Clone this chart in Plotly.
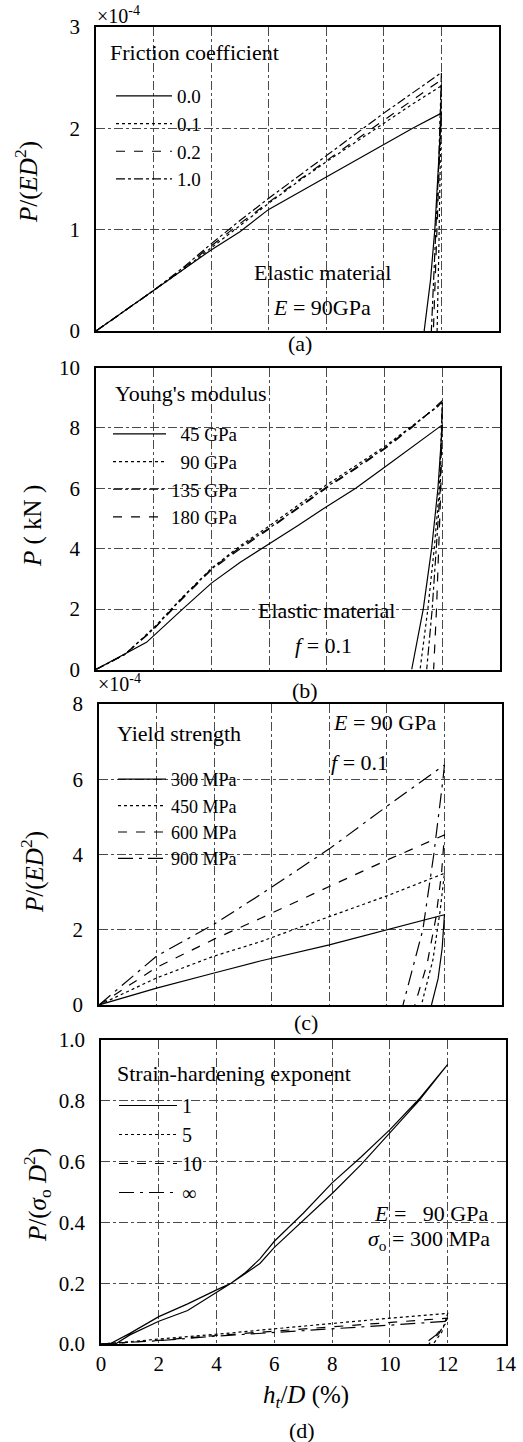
import plotly.graph_objects as go

W, H = 523, 1442
FONT = "Liberation Serif"

# ---------------- Panel (a): friction coefficient (values in 1e-4) ----------------
a_labels = ["0.0", "0.1", "0.2", "1.0"]
a_load_x = [0, 1, 2, 3, 4, 5, 6, 7, 8, 9, 10, 11, 12]
a_load_f00 = [0, 0.2, 0.4, 0.6, 0.8, 0.98, 1.2, 1.36, 1.52, 1.68, 1.84, 2.0, 2.15]
a_load_f01 = [0, 0.2, 0.4, 0.6, 0.82, 1.04, 1.26, 1.47, 1.67, 1.86, 2.05, 2.24, 2.42]
a_load_f02 = [0, 0.2, 0.4, 0.61, 0.84, 1.06, 1.27, 1.48, 1.68, 1.88, 2.08, 2.28, 2.48]
a_load_f10 = [0, 0.2, 0.4, 0.62, 0.86, 1.09, 1.31, 1.52, 1.73, 1.94, 2.15, 2.35, 2.55]
a_unl_x_f00 = [12, 11.9, 11.77, 11.62, 11.4]
a_unl_y_f00 = [2.15, 1.6, 1.0, 0.5, 0]
a_unl_x_f01 = [12, 11.96, 11.91, 11.85]
a_unl_y_f01 = [2.42, 1.6, 0.8, 0]
a_unl_x_f02 = [12, 11.92, 11.82, 11.72]
a_unl_y_f02 = [2.48, 1.6, 0.8, 0]
a_unl_x_f10 = [12, 11.9, 11.78, 11.65]
a_unl_y_f10 = [2.55, 1.6, 0.8, 0]

# ---------------- Panel (b): Young's modulus (kN) ----------------
b_labels = ["\u00a0\u00a045 GPa", "\u00a0\u00a090 GPa", "135 GPa", "180 GPa"]
b_load_x_e45 = [0, 1.75, 3, 4, 5, 5.7, 7, 8, 9, 10, 11, 12]
b_load_y_e45 = [0, 0.9, 2.0, 2.86, 3.55, 3.97, 4.77, 5.4, 6.0, 6.7, 7.4, 8.1]
b_load_x = [0, 1, 2, 3, 4, 5, 6, 7, 8, 9, 10, 11, 12]
b_load_e90 = [0, 0.5, 1.38, 2.4, 3.35, 4.1, 4.75, 5.42, 6.12, 6.75, 7.38, 8.1, 8.82]
b_load_e135 = [0, 0.5, 1.35, 2.38, 3.33, 4.05, 4.68, 5.35, 6.05, 6.68, 7.33, 8.08, 8.85]
b_load_e180 = [0, 0.5, 1.33, 2.35, 3.3, 4.0, 4.65, 5.32, 6.02, 6.65, 7.3, 8.05, 8.9]
b_unl_y_levels = [6, 4, 2, 0]
b_unl_x_e45 = [11.85, 11.63, 11.34, 10.94]
b_unl_x_e90 = [11.9, 11.72, 11.5, 11.23]
b_unl_x_e135 = [11.93, 11.8, 11.65, 11.46]
b_unl_x_e180 = [11.95, 11.88, 11.8, 11.7]

# ---------------- Panel (c): yield strength (values in 1e-4) ----------------
c_labels = ["300 MPa", "450 MPa", "600 MPa", "900 MPa"]
c_load_x = [0, 2, 4, 5.6, 8, 10, 12]
c_load_s300 = [0, 0.45, 0.85, 1.17, 1.6, 2.0, 2.4]
c_load_s450 = [0, 0.72, 1.3, 1.68, 2.35, 2.9, 3.5]
c_load_s600 = [0, 1.0, 1.75, 2.3, 3.15, 3.85, 4.52]
c_load_s900 = [0, 1.3, 2.15, 2.93, 4.15, 5.28, 6.38]
c_unl_x_s300 = [12, 11.92, 11.78, 11.55]
c_unl_y_s300 = [2.4, 1.5, 0.7, 0]
c_unl_x_s450 = [12, 11.85, 11.6, 11.2]
c_unl_y_s450 = [3.5, 2.5, 1.2, 0]
c_unl_x_s600 = [12, 11.9, 11.7, 11.4, 10.97]
c_unl_y_s600 = [4.52, 3.5, 2.3, 1.1, 0]
c_unl_x_s900 = [12, 11.95, 11.63, 11.25, 10.56]
c_unl_y_s900 = [6.38, 6.0, 4.0, 2.0, 0]

# ---------------- Panel (d): strain-hardening exponent ----------------
d_labels = ["1", "5", "10", "\u221e"]
d_load_x_n1 = [0.3, 1, 2, 3, 4, 4.5, 5, 5.5, 6, 7, 8, 9, 10, 11, 12]
d_load_y_n1 = [0, 0.035, 0.09, 0.132, 0.178, 0.2, 0.232, 0.265, 0.318, 0.405, 0.495, 0.59, 0.695, 0.8, 0.92]
d_unl_x_n1 = [11, 10, 9, 8, 7, 6, 5.5, 5, 4.5, 3, 2, 1, 0.5]
d_unl_y_n1 = [0.805, 0.705, 0.615, 0.53, 0.43, 0.338, 0.28, 0.235, 0.2, 0.11, 0.075, 0.03, 0]
d_load_x = [0, 2, 4, 6, 8, 10, 12]
d_load_n5 = [0, 0.015, 0.032, 0.05, 0.068, 0.085, 0.101]
d_load_n10 = [0, 0.012, 0.028, 0.042, 0.057, 0.07, 0.085]
d_load_ninf = [0, 0.011, 0.026, 0.037, 0.05, 0.062, 0.075]
d_unl_x_n5 = [11.8, 11.5]
d_unl_y_n5 = [0.04, 0]
d_unl_x_n10 = [11.7, 11.35]
d_unl_y_n10 = [0.035, 0]
d_unl_x_ninf = [11.6, 11.2]
d_unl_y_ninf = [0.03, 0]

x_ticks = [0, 2, 4, 6, 8, 10, 12, 14]

fig = go.Figure()


def add(x, y, name, dash, n):
    ax = "" if n == 1 else str(n)
    fig.add_trace(go.Scatter(
        x=x, y=y, name=name, mode="lines",
        line=dict(color="black", width=1.2, dash=dash),
        xaxis="x" + ax, yaxis="y" + ax,
        legend="legend" + ax,
    ))


# (a)
add(a_load_x + a_unl_x_f00[1:], a_load_f00 + a_unl_y_f00[1:], a_labels[0], "solid", 1)
add(a_load_x + a_unl_x_f01[1:], a_load_f01 + a_unl_y_f01[1:], a_labels[1], "dot", 1)
add(a_load_x + a_unl_x_f02[1:], a_load_f02 + a_unl_y_f02[1:], a_labels[2], "dash", 1)
add(a_load_x + a_unl_x_f10[1:], a_load_f10 + a_unl_y_f10[1:], a_labels[3], "dashdot", 1)
# (b)
add(b_load_x_e45 + b_unl_x_e45, b_load_y_e45 + b_unl_y_levels, b_labels[0], "solid", 2)
add(b_load_x + b_unl_x_e90, b_load_e90 + b_unl_y_levels, b_labels[1], "dot", 2)
add(b_load_x + b_unl_x_e135, b_load_e135 + b_unl_y_levels, b_labels[2], "dashdot", 2)
add(b_load_x + b_unl_x_e180, b_load_e180 + b_unl_y_levels, b_labels[3], "dash", 2)
# (c)
add(c_load_x + c_unl_x_s300[1:], c_load_s300 + c_unl_y_s300[1:], c_labels[0], "solid", 3)
add(c_load_x + c_unl_x_s450[1:], c_load_s450 + c_unl_y_s450[1:], c_labels[1], "dot", 3)
add(c_load_x + c_unl_x_s600[1:], c_load_s600 + c_unl_y_s600[1:], c_labels[2], "dash", 3)
add(c_load_x + c_unl_x_s900[1:], c_load_s900 + c_unl_y_s900[1:], c_labels[3], "longdashdot", 3)
# (d)
add(d_load_x_n1 + d_unl_x_n1, d_load_y_n1 + d_unl_y_n1, d_labels[0], "solid", 4)
add(d_load_x + d_unl_x_n5, d_load_n5 + d_unl_y_n5, d_labels[1], "dot", 4)
add(d_load_x + d_unl_x_n10, d_load_n10 + d_unl_y_n10, d_labels[2], "dash", 4)
add(d_load_x + d_unl_x_ninf, d_load_ninf + d_unl_y_ninf, d_labels[3], "longdashdot", 4)


def px(v):
    return v / W


def py(v):
    return 1 - v / H


panels = [
    # (x left, x right, y top, y bottom, y range, y dtick, tickformat, show x labels)
    (96, 499, 27, 331, [0, 3], 1, "d", False),
    (96, 500, 367.5, 669.5, [0, 10], 2, "d", False),
    (99, 502, 704, 1005, [0, 8], 2, "d", False),
    (101, 505.5, 1040, 1344, [0, 1.0], 0.2, ".1f", True),
]

tickfont = dict(family=FONT, size=21, color="black")
common = dict(showline=True, mirror=True, linecolor="black", linewidth=1.5,
              showgrid=True, gridcolor="#4a4a4a", gridwidth=0.8, griddash="dashdot",
              zeroline=False, ticks="", tickfont=tickfont, automargin=False)

layout = {}
for i, (xl, xr, yt, yb, yr, dt, fmt, showx) in enumerate(panels, start=1):
    s = "" if i == 1 else str(i)
    layout["xaxis" + s] = dict(domain=[px(xl), px(xr)], range=[0, 14], tickvals=x_ticks,
                               anchor="y" + s, showticklabels=showx, **common)
    layout["yaxis" + s] = dict(domain=[py(yb), py(yt)], range=yr, dtick=dt, tickformat=fmt,
                               anchor="x" + s, ticklabelstandoff=10, **common)

# legend boxes: (left x, top y, font size, itemwidth)
legend_boxes = [(111, 77, 19, 56), (108, 415, 19, 53), (113, 761, 18, 48), (114, 1086, 20, 58)]
for i, (lx, ly, fs, iw) in enumerate(legend_boxes, start=1):
    s = "" if i == 1 else str(i)
    layout["legend" + s] = dict(
        x=px(lx), y=py(ly), xanchor="left", yanchor="top",
        bgcolor="rgba(0,0,0,0)", borderwidth=0,
        font=dict(family=FONT, size=fs, color="black"),
        itemwidth=iw,
    )

fig.update_layout(
    width=W, height=H, margin=dict(l=0, r=0, t=0, b=0, autoexpand=False),
    paper_bgcolor="white", plot_bgcolor="white",
    showlegend=True,
    font=dict(family=FONT, size=21, color="black"),
    **layout,
)


def ann(text, x, y, size=22, angle=0, xanchor="center"):
    fig.add_annotation(text=text, x=px(x), y=py(y), xref="paper", yref="paper",
                       showarrow=False, textangle=angle, xanchor=xanchor, yanchor="middle",
                       font=dict(family=FONT, size=size, color="black"))


# legend headings
ann("Friction coefficient", 108, 53, xanchor="left")
ann("Young's modulus", 113, 393, xanchor="left")
ann("Yield strength", 115, 733, xanchor="left")
ann("Strain-hardening exponent", 115, 1073, xanchor="left")
# y-axis titles
ann("<i>P</i>/(<i>ED</i><sup>2</sup>)", 27, 182, size=25, angle=-90)
ann("<i>P</i> ( kN )", 33, 526, size=25, angle=-90)
ann("<i>P</i>/(<i>ED</i><sup>2</sup>)", 33, 872, size=25, angle=-90)
ann("<i>P</i>/(<i>\u03c3</i><sub>o</sub> <i>D</i><sup>2</sup>)", 37, 1195, size=25, angle=-90)
# x-axis title
ann("<i>h</i><sub><i>t</i></sub>/<i>D</i> (%)", 306, 1396, size=25)
# multipliers
ann("\u00d710<sup>-4</sup>", 95, 15, size=20, xanchor="left")
ann("\u00d710<sup>-4</sup>", 96, 683, size=20, xanchor="left")
# panel labels
ann("(a)", 300, 343)
ann("(b)", 305, 690)
ann("(c)", 306, 1022)
ann("(d)", 302, 1430)
# in-panel notes
ann("Elastic material", 322, 272)
ann("<i>E</i> = 90GPa", 322, 307)
ann("Elastic material", 326, 610)
ann("<i>f</i> = 0.1", 323, 645)
ann("<i>E</i> = 90 GPa", 331, 722, xanchor="left")
ann("<i>f</i> = 0.1", 329, 762, xanchor="left")
ann("<i>E</i> =\u00a0\u00a0 90 GPa", 490, 1213, xanchor="right")
ann("<i>\u03c3</i><sub>o</sub> = 300 MPa", 492, 1240, xanchor="right")

fig.write_html("out.html", post_script="document.body.style.margin='0px';",
               config={"displayModeBar": False})
